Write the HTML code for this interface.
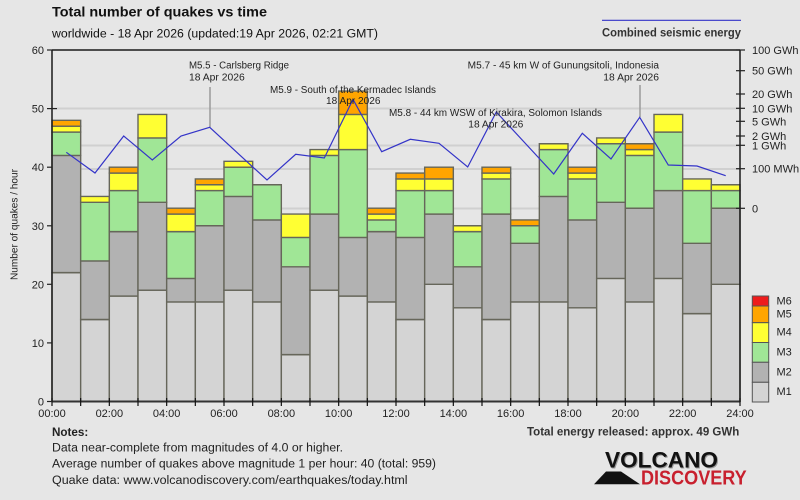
<!DOCTYPE html>
<html><head><meta charset="utf-8"><style>
html,body{margin:0;padding:0;background:#e6e6e6;}
svg{display:block;font-family:"Liberation Sans","DejaVu Sans",sans-serif;}
.c1{fill:#d4d4d4}.c2{fill:#b2b2b2}.c3{fill:#a0e696}.c4{fill:#ffff33}.c5{fill:#ffa500}.c6{fill:#ee1c1c}
.bars rect{stroke:#66665a;stroke-width:1.4;vector-effect:non-scaling-stroke}
</style></head><body>
<svg width="800" height="500" viewBox="0 0 800 500" xmlns="http://www.w3.org/2000/svg">
<rect width="800" height="500" fill="#e6e6e6"/>
<!-- gridlines -->
<g stroke="#d0d0d0" stroke-width="2">
<line x1="52" y1="108.5" x2="740" y2="108.5"/>
<line x1="52" y1="145.5" x2="740" y2="145.5"/>
<line x1="52" y1="169" x2="740" y2="169"/>
<line x1="52" y1="208.5" x2="740" y2="208.5"/>
</g>
<!-- bars -->
<g class="bars" transform="translate(52,401.5) scale(28.6667,-5.858)">
<rect x="0" y="0" width="1" height="22" class="c1"/><rect x="0" y="22" width="1" height="20" class="c2"/><rect x="0" y="42" width="1" height="4" class="c3"/><rect x="0" y="46" width="1" height="1" class="c4"/><rect x="0" y="47" width="1" height="1" class="c5"/>
<rect x="1" y="0" width="1" height="14" class="c1"/><rect x="1" y="14" width="1" height="10" class="c2"/><rect x="1" y="24" width="1" height="10" class="c3"/><rect x="1" y="34" width="1" height="1" class="c4"/>
<rect x="2" y="0" width="1" height="18" class="c1"/><rect x="2" y="18" width="1" height="11" class="c2"/><rect x="2" y="29" width="1" height="7" class="c3"/><rect x="2" y="36" width="1" height="3" class="c4"/><rect x="2" y="39" width="1" height="1" class="c5"/>
<rect x="3" y="0" width="1" height="19" class="c1"/><rect x="3" y="19" width="1" height="15" class="c2"/><rect x="3" y="34" width="1" height="11" class="c3"/><rect x="3" y="45" width="1" height="4" class="c4"/>
<rect x="4" y="0" width="1" height="17" class="c1"/><rect x="4" y="17" width="1" height="4" class="c2"/><rect x="4" y="21" width="1" height="8" class="c3"/><rect x="4" y="29" width="1" height="3" class="c4"/><rect x="4" y="32" width="1" height="1" class="c5"/>
<rect x="5" y="0" width="1" height="17" class="c1"/><rect x="5" y="17" width="1" height="13" class="c2"/><rect x="5" y="30" width="1" height="6" class="c3"/><rect x="5" y="36" width="1" height="1" class="c4"/><rect x="5" y="37" width="1" height="1" class="c5"/>
<rect x="6" y="0" width="1" height="19" class="c1"/><rect x="6" y="19" width="1" height="16" class="c2"/><rect x="6" y="35" width="1" height="5" class="c3"/><rect x="6" y="40" width="1" height="1" class="c4"/>
<rect x="7" y="0" width="1" height="17" class="c1"/><rect x="7" y="17" width="1" height="14" class="c2"/><rect x="7" y="31" width="1" height="6" class="c3"/>
<rect x="8" y="0" width="1" height="8" class="c1"/><rect x="8" y="8" width="1" height="15" class="c2"/><rect x="8" y="23" width="1" height="5" class="c3"/><rect x="8" y="28" width="1" height="4" class="c4"/>
<rect x="9" y="0" width="1" height="19" class="c1"/><rect x="9" y="19" width="1" height="13" class="c2"/><rect x="9" y="32" width="1" height="10" class="c3"/><rect x="9" y="42" width="1" height="1" class="c4"/>
<rect x="10" y="0" width="1" height="18" class="c1"/><rect x="10" y="18" width="1" height="10" class="c2"/><rect x="10" y="28" width="1" height="15" class="c3"/><rect x="10" y="43" width="1" height="6" class="c4"/><rect x="10" y="49" width="1" height="4" class="c5"/>
<rect x="11" y="0" width="1" height="17" class="c1"/><rect x="11" y="17" width="1" height="12" class="c2"/><rect x="11" y="29" width="1" height="2" class="c3"/><rect x="11" y="31" width="1" height="1" class="c4"/><rect x="11" y="32" width="1" height="1" class="c5"/>
<rect x="12" y="0" width="1" height="14" class="c1"/><rect x="12" y="14" width="1" height="14" class="c2"/><rect x="12" y="28" width="1" height="8" class="c3"/><rect x="12" y="36" width="1" height="2" class="c4"/><rect x="12" y="38" width="1" height="1" class="c5"/>
<rect x="13" y="0" width="1" height="20" class="c1"/><rect x="13" y="20" width="1" height="12" class="c2"/><rect x="13" y="32" width="1" height="4" class="c3"/><rect x="13" y="36" width="1" height="2" class="c4"/><rect x="13" y="38" width="1" height="2" class="c5"/>
<rect x="14" y="0" width="1" height="16" class="c1"/><rect x="14" y="16" width="1" height="7" class="c2"/><rect x="14" y="23" width="1" height="6" class="c3"/><rect x="14" y="29" width="1" height="1" class="c4"/>
<rect x="15" y="0" width="1" height="14" class="c1"/><rect x="15" y="14" width="1" height="18" class="c2"/><rect x="15" y="32" width="1" height="6" class="c3"/><rect x="15" y="38" width="1" height="1" class="c4"/><rect x="15" y="39" width="1" height="1" class="c5"/>
<rect x="16" y="0" width="1" height="17" class="c1"/><rect x="16" y="17" width="1" height="10" class="c2"/><rect x="16" y="27" width="1" height="3" class="c3"/><rect x="16" y="30" width="1" height="1" class="c5"/>
<rect x="17" y="0" width="1" height="17" class="c1"/><rect x="17" y="17" width="1" height="18" class="c2"/><rect x="17" y="35" width="1" height="8" class="c3"/><rect x="17" y="43" width="1" height="1" class="c4"/>
<rect x="18" y="0" width="1" height="16" class="c1"/><rect x="18" y="16" width="1" height="15" class="c2"/><rect x="18" y="31" width="1" height="7" class="c3"/><rect x="18" y="38" width="1" height="1" class="c4"/><rect x="18" y="39" width="1" height="1" class="c5"/>
<rect x="19" y="0" width="1" height="21" class="c1"/><rect x="19" y="21" width="1" height="13" class="c2"/><rect x="19" y="34" width="1" height="10" class="c3"/><rect x="19" y="44" width="1" height="1" class="c4"/>
<rect x="20" y="0" width="1" height="17" class="c1"/><rect x="20" y="17" width="1" height="16" class="c2"/><rect x="20" y="33" width="1" height="9" class="c3"/><rect x="20" y="42" width="1" height="1" class="c4"/><rect x="20" y="43" width="1" height="1" class="c5"/>
<rect x="21" y="0" width="1" height="21" class="c1"/><rect x="21" y="21" width="1" height="15" class="c2"/><rect x="21" y="36" width="1" height="10" class="c3"/><rect x="21" y="46" width="1" height="3" class="c4"/>
<rect x="22" y="0" width="1" height="15" class="c1"/><rect x="22" y="15" width="1" height="12" class="c2"/><rect x="22" y="27" width="1" height="9" class="c3"/><rect x="22" y="36" width="1" height="2" class="c4"/>
<rect x="23" y="0" width="1" height="20" class="c1"/><rect x="23" y="20" width="1" height="13" class="c2"/><rect x="23" y="33" width="1" height="3" class="c3"/><rect x="23" y="36" width="1" height="1" class="c4"/>
</g>
<!-- leader lines -->
<g stroke="#9a9a9a" stroke-width="1.5">
<line x1="210" y1="87" x2="210" y2="127"/>
<line x1="640" y1="85" x2="640" y2="117"/>
</g>
<!-- energy line -->
<polyline fill="none" stroke="#3434c8" stroke-width="1.2" points="66.3,152.3 95,173 123.7,136 152.3,160 181,136 209.7,127.3 238.3,153.7 267,180 295.7,154.3 324.3,158 353,99.3 381.7,151.7 410.3,139.3 439,143.3 467.7,167 496.3,112 525,143 553.7,174 582.3,133.3 611,159 639.7,117.3 668.3,165 697,166 725.7,175.7"/>
<!-- annotations -->
<g font-size="10" fill="#222">
<text x="189" y="68.6" textLength="100" lengthAdjust="spacingAndGlyphs">M5.5 - Carlsberg Ridge</text>
<text x="189" y="80.3" textLength="55.7" lengthAdjust="spacingAndGlyphs">18 Apr 2026</text>
<text x="270" y="93" textLength="166" lengthAdjust="spacingAndGlyphs">M5.9 - South of the Kermadec Islands</text>
<text x="326" y="104" textLength="54.5" lengthAdjust="spacingAndGlyphs">18 Apr 2026</text>
<text x="389" y="116" textLength="213" lengthAdjust="spacingAndGlyphs">M5.8 - 44 km WSW of Kirakira, Solomon Islands</text>
<text x="468.3" y="127.6" textLength="55" lengthAdjust="spacingAndGlyphs">18 Apr 2026</text>
<text x="467.7" y="68.6" textLength="191.3" lengthAdjust="spacingAndGlyphs">M5.7 - 45 km W of Gunungsitoli, Indonesia</text>
<text x="603.3" y="80.6" textLength="55.7" lengthAdjust="spacingAndGlyphs">18 Apr 2026</text>
</g>
<!-- frame / axes -->
<g stroke="#1a1a1a" stroke-width="1.5" fill="none">
<line x1="52" y1="50" x2="740" y2="50"/>
<line x1="52" y1="50" x2="52" y2="402"/>
<line x1="740" y1="50" x2="740" y2="402"/>
</g>
<line x1="52" y1="401.5" x2="740" y2="401.5" stroke="#333" stroke-width="2"/>
<!-- x ticks -->
<g stroke="#111" stroke-width="1.2">
<line x1="52" y1="398" x2="52" y2="406"/><line x1="80.67" y1="398" x2="80.67" y2="406"/><line x1="109.33" y1="398" x2="109.33" y2="406"/><line x1="138" y1="398" x2="138" y2="406"/><line x1="166.67" y1="398" x2="166.67" y2="406"/><line x1="195.33" y1="398" x2="195.33" y2="406"/><line x1="224" y1="398" x2="224" y2="406"/><line x1="252.67" y1="398" x2="252.67" y2="406"/><line x1="281.33" y1="398" x2="281.33" y2="406"/><line x1="310" y1="398" x2="310" y2="406"/><line x1="338.67" y1="398" x2="338.67" y2="406"/><line x1="367.33" y1="398" x2="367.33" y2="406"/><line x1="396" y1="398" x2="396" y2="406"/><line x1="424.67" y1="398" x2="424.67" y2="406"/><line x1="453.33" y1="398" x2="453.33" y2="406"/><line x1="482" y1="398" x2="482" y2="406"/><line x1="510.67" y1="398" x2="510.67" y2="406"/><line x1="539.33" y1="398" x2="539.33" y2="406"/><line x1="568" y1="398" x2="568" y2="406"/><line x1="596.67" y1="398" x2="596.67" y2="406"/><line x1="625.33" y1="398" x2="625.33" y2="406"/><line x1="654" y1="398" x2="654" y2="406"/><line x1="682.67" y1="398" x2="682.67" y2="406"/><line x1="711.33" y1="398" x2="711.33" y2="406"/><line x1="740" y1="398" x2="740" y2="406"/>
</g>
<!-- left ticks -->
<g stroke="#222" stroke-width="1.2">
<line x1="47" y1="401.5" x2="52" y2="401.5"/><line x1="47" y1="342.9" x2="52" y2="342.9"/><line x1="47" y1="284.3" x2="52" y2="284.3"/><line x1="47" y1="225.8" x2="52" y2="225.8"/><line x1="47" y1="167.2" x2="52" y2="167.2"/><line x1="47" y1="108.6" x2="57" y2="108.6"/><line x1="47" y1="50" x2="52" y2="50"/>
</g>
<g font-size="11" fill="#222" text-anchor="end">
<text x="44" y="405.5">0</text><text x="44" y="346.9">10</text><text x="44" y="288.3">20</text><text x="44" y="229.8">30</text><text x="44" y="171.2">40</text><text x="44" y="112.6">50</text><text x="44" y="54">60</text>
</g>
<!-- right ticks -->
<g stroke="#222" stroke-width="1.2">
<line x1="736" y1="50" x2="745" y2="50"/><line x1="736" y1="70.7" x2="745" y2="70.7"/><line x1="736" y1="94" x2="745" y2="94"/><line x1="736" y1="108.3" x2="745" y2="108.3"/><line x1="736" y1="121.3" x2="745" y2="121.3"/><line x1="736" y1="136" x2="745" y2="136"/><line x1="736" y1="145.3" x2="745" y2="145.3"/><line x1="736" y1="168.7" x2="745" y2="168.7"/><line x1="736" y1="208.3" x2="745" y2="208.3"/>
</g>
<g font-size="11" fill="#222">
<text x="752" y="54">100 GWh</text><text x="752" y="74.7">50 GWh</text><text x="752" y="98">20 GWh</text><text x="752" y="112.3">10 GWh</text><text x="752" y="125.3">5 GWh</text><text x="752" y="140">2 GWh</text><text x="752" y="149.3">1 GWh</text><text x="752" y="172.7">100 MWh</text><text x="752" y="212.3">0</text>
</g>
<!-- x labels -->
<g font-size="11" fill="#222" text-anchor="middle">
<text x="52" y="417">00:00</text><text x="109.33" y="417">02:00</text><text x="166.67" y="417">04:00</text><text x="224" y="417">06:00</text><text x="281.33" y="417">08:00</text><text x="338.67" y="417">10:00</text><text x="396" y="417">12:00</text><text x="453.33" y="417">14:00</text><text x="510.67" y="417">16:00</text><text x="568" y="417">18:00</text><text x="625.33" y="417">20:00</text><text x="682.67" y="417">22:00</text><text x="740" y="417">24:00</text>
</g>
<!-- y title -->
<text transform="translate(17.5,280) rotate(-90)" font-size="10" fill="#222" textLength="111" lengthAdjust="spacingAndGlyphs">Number of quakes / hour</text>
<!-- titles -->
<text x="52" y="16.7" font-size="14" font-weight="bold" fill="#111" textLength="215" lengthAdjust="spacingAndGlyphs">Total number of quakes vs time</text>
<text x="52" y="37.3" font-size="11.5" fill="#111" textLength="326" lengthAdjust="spacingAndGlyphs">worldwide - 18 Apr 2026 (updated:19 Apr 2026, 02:21 GMT)</text>
<line x1="602" y1="20.3" x2="741" y2="20.3" stroke="#3434c8" stroke-width="1.2"/>
<text x="602" y="36.5" font-size="11.5" font-weight="bold" fill="#333" textLength="139" lengthAdjust="spacingAndGlyphs">Combined seismic energy</text>
<!-- legend -->
<g stroke="#555" stroke-width="1">
<rect x="752.3" y="296" width="16.4" height="10" class="c6"/>
<rect x="752.3" y="306" width="16.4" height="16.7" class="c5"/>
<rect x="752.3" y="322.7" width="16.4" height="19.8" class="c4"/>
<rect x="752.3" y="342.5" width="16.4" height="19.8" class="c3"/>
<rect x="752.3" y="362.3" width="16.4" height="20" class="c2"/>
<rect x="752.3" y="382.3" width="16.4" height="19.7" class="c1"/>
</g>
<g font-size="11" fill="#222">
<text x="776.5" y="304.7">M6</text><text x="776.5" y="317.7">M5</text><text x="776.5" y="335.7">M4</text><text x="776.5" y="355.7">M3</text><text x="776.5" y="375.7">M2</text><text x="776.5" y="395">M1</text>
</g>
<!-- notes -->
<g fill="#222" font-size="11.5">
<text x="52" y="436" font-weight="bold" textLength="36.3" lengthAdjust="spacingAndGlyphs">Notes:</text>
<text x="52" y="451.3" textLength="291" lengthAdjust="spacingAndGlyphs">Data near-complete from magnitudes of 4.0 or higher.</text>
<text x="52" y="467.5" textLength="384" lengthAdjust="spacingAndGlyphs">Average number of quakes above magnitude 1 per hour: 40 (total: 959)</text>
<text x="52" y="484" textLength="355.6" lengthAdjust="spacingAndGlyphs">Quake data: www.volcanodiscovery.com/earthquakes/today.html</text>
<text x="527" y="435.5" font-weight="bold" fill="#333" textLength="212.3" lengthAdjust="spacingAndGlyphs">Total energy released: approx. 49 GWh</text>
</g>
<!-- logo -->
<text x="606" y="468.5" font-size="22" font-weight="bold" fill="#9a9a9a" textLength="113" lengthAdjust="spacingAndGlyphs">VOLCANO</text>
<text x="605" y="467.7" font-size="22" font-weight="bold" fill="#111" textLength="113" lengthAdjust="spacingAndGlyphs">VOLCANO</text>
<polygon points="594,484.3 606,471.5 621,471.5 640,484.3" fill="#111"/>
<text x="641" y="484.3" font-size="20" font-weight="bold" fill="#c8202e" textLength="105.7" lengthAdjust="spacingAndGlyphs">DISCOVERY</text>
</svg>
</body></html>
